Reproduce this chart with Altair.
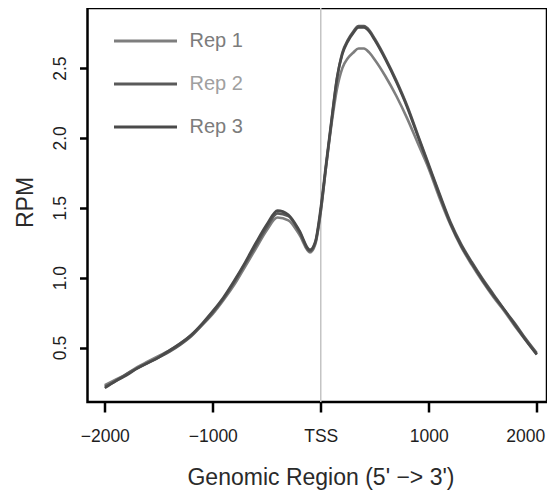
import altair as alt
import pandas as pd

# ---- data ----
positions = [-2000, -1900, -1800, -1700, -1600, -1500, -1400, -1300, -1200, -1100,
             -1000, -900, -800, -700, -600, -500, -400, -300, -200, -100,
             -50, 0, 50, 100, 150, 200, 250, 300, 350, 400,
             450, 500, 600, 700, 800, 900, 1000, 1100, 1200, 1300,
             1400, 1500, 1600, 1700, 1800, 1900, 2000]

rep1 = [0.23, 0.27, 0.31, 0.36, 0.40, 0.44, 0.48, 0.53, 0.59, 0.66,
        0.74, 0.84, 0.95, 1.08, 1.21, 1.34, 1.43, 1.41, 1.31, 1.18,
        1.24, 1.47, 1.80, 2.10, 2.35, 2.50, 2.57, 2.61, 2.64, 2.64,
        2.61, 2.56, 2.44, 2.30, 2.14, 1.96, 1.78, 1.57, 1.38, 1.22,
        1.09, 0.97, 0.86, 0.76, 0.65, 0.55, 0.45]

rep2 = [0.22, 0.26, 0.31, 0.35, 0.39, 0.43, 0.47, 0.52, 0.58, 0.66,
        0.75, 0.85, 0.97, 1.10, 1.23, 1.36, 1.46, 1.44, 1.33, 1.19,
        1.25, 1.48, 1.80, 2.12, 2.42, 2.61, 2.70, 2.76, 2.80, 2.80,
        2.77, 2.71, 2.57, 2.41, 2.23, 2.02, 1.81, 1.60, 1.40, 1.24,
        1.11, 0.99, 0.88, 0.77, 0.67, 0.56, 0.46]

rep3 = [0.21, 0.26, 0.30, 0.35, 0.39, 0.43, 0.48, 0.53, 0.59, 0.67,
        0.76, 0.86, 0.98, 1.11, 1.25, 1.38, 1.48, 1.45, 1.34, 1.20,
        1.26, 1.50, 1.82, 2.13, 2.43, 2.60, 2.69, 2.75, 2.79, 2.79,
        2.76, 2.70, 2.56, 2.40, 2.22, 2.01, 1.80, 1.59, 1.39, 1.23,
        1.10, 0.98, 0.87, 0.77, 0.66, 0.55, 0.45]

series_names = ["Rep 1", "Rep 2", "Rep 3"]
series_colors = ["#7e7e7e", "#5a5a5a", "#4a4a4a"]
x_ticks = [-2000, -1000, 0, 1000, 2000]
y_ticks = [0.5, 1.0, 1.5, 2.0, 2.5]
tss = [0]

rows = []
for name, vals in zip(series_names, [rep1, rep2, rep3]):
    for i, (p, v) in enumerate(zip(positions, vals)):
        rows.append({"pos": p, "rpm": v, "rep": name, "idx": i})
df = pd.DataFrame(rows)
df_tss = pd.DataFrame({"pos": tss})

FONT = "Liberation Sans"

x_scale = alt.Scale(domain=[-2160, 2095], nice=False, zero=False)
y_scale = alt.Scale(domain=[0.11, 2.93], nice=False, zero=False)

x_axis = alt.Axis(
    values=x_ticks,
    format="d",
    labelExpr="datum.value == 0 ? 'TSS' : datum.label",
    title="Genomic Region (5' \u2212> 3')",
    tickSize=10,
    labelPadding=15,
    labelFlush=12,
    labelFlushOffset=8,
    titleBaseline="alphabetic",
    titleY=82.5,
    titleX=233,
)
y_axis = alt.Axis(
    values=y_ticks,
    format=".1f",
    title="RPM",
    labelAngle=-90,
    labelAlign="center",
    labelBaseline="alphabetic",
    tickSize=8,
    labelPadding=14,
    titleAngle=-90,
    titleBaseline="alphabetic",
    titleX=-55.5,
    titleY=194,
)

rule = alt.Chart(df_tss).mark_rule(color="#c4c4c4", strokeWidth=1.5).encode(
    x=alt.X("pos:Q", scale=x_scale, axis=x_axis)
)

lines = alt.Chart(df).mark_line(strokeWidth=2.6, interpolate="monotone").encode(
    x=alt.X("pos:Q", scale=x_scale, axis=x_axis),
    y=alt.Y("rpm:Q", scale=y_scale, axis=y_axis),
    color=alt.Color(
        "rep:N",
        scale=alt.Scale(domain=series_names, range=series_colors),
        legend=alt.Legend(
            title=None,
            orient="none",
            legendX=25,
            legendY=0,
            symbolType="stroke",
            symbolSize=3969,
            symbolStrokeWidth=3,
            labelFont=FONT,
            labelFontSize=20,
            labelColor=alt.ExprRef("datum.label == 'Rep 2' ? '#a0a0a0' : '#7c7c7c'"),
            labelOffset=11,
            rowPadding=-2,
            padding=0,
        ),
    ),
    order="idx:Q",
)

chart = (
    alt.layer(rule, lines)
    .properties(
        width=459.5,
        height=394,
        autosize=alt.AutoSizeParams(type="none"),
        padding={"left": 79.5, "top": 0, "right": 0, "bottom": 90},
        background="white",
    )
    .configure_view(stroke="black", strokeWidth=2.5)
    .configure_axis(
        grid=False,
        domain=False,
        tickColor="black",
        tickWidth=2.5,
        labelFont=FONT,
        labelFontSize=17.5,
        labelColor="#1e1e1e",
        titleFont=FONT,
        titleFontSize=23,
        titleFontWeight="normal",
        titleColor="#2a2a2a",
        labelOverlap=False,
        labelBound=False,
    )
)

chart.save("out.html", embed_options={"renderer": "svg", "actions": False})
